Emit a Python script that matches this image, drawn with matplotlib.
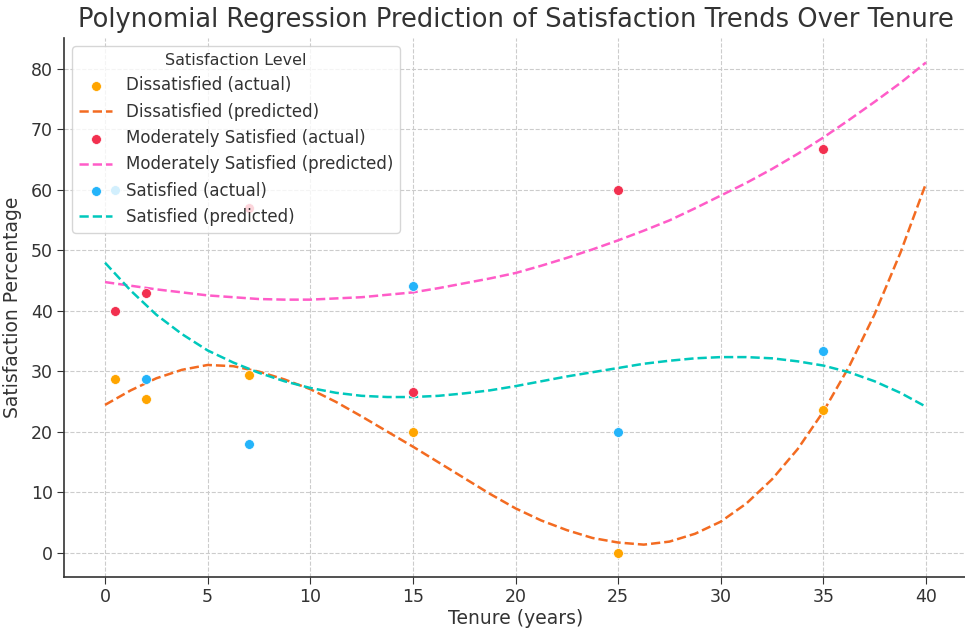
import matplotlib
matplotlib.use("Agg")
from matplotlib import pyplot as plt

# observed points
tenure = [0.5, 2, 7, 15, 25, 35]
dissatisfied = [28.6, 25.4, 29.4, 20.0, 0.0, 23.5]
moderately = [40.0, 42.9, 56.9, 26.5, 60.0, 66.7]
satisfied = [60.0, 28.6, 18.0, 44.1, 20.0, 33.3]

# predicted curves
tenure_pred = [0, 1.25, 2.5, 3.75, 5, 6.25, 7.5, 8.75, 10, 11.25, 12.5, 13.75, 15, 16.25, 17.5,
               18.75, 20, 21.25, 22.5, 23.75, 25, 26.25, 27.5, 28.75, 30, 31.25, 32.5, 33.75,
               35, 36.25, 37.5, 38.75, 40]
dissatisfied_pred = [24.4, 26.8, 28.8, 30.2, 31.0, 30.8, 29.9, 28.6, 27.0, 24.9, 22.5, 20.0, 17.5,
                     14.9, 12.3, 9.7, 7.3, 5.3, 3.7, 2.4, 1.65, 1.3, 1.8, 3.1, 5.1, 8.1, 12.1,
                     17.1, 23.3, 30.7, 39.4, 49.5, 61.0]
moderately_pred = [44.7, 44.1, 43.5, 43.0, 42.5, 42.2, 41.9, 41.8, 41.8, 42.0, 42.2, 42.6, 43.0,
                   43.7, 44.5, 45.3, 46.2, 47.4, 48.7, 50.1, 51.6, 53.2, 54.9, 56.9, 59.0, 61.1,
                   63.4, 65.9, 68.6, 71.5, 74.5, 77.6, 81.0]
satisfied_pred = [47.9, 43.3, 39.3, 36.1, 33.4, 31.4, 29.7, 28.3, 27.2, 26.4, 25.9, 25.7, 25.7,
                  25.9, 26.3, 26.8, 27.5, 28.3, 29.1, 29.8, 30.5, 31.2, 31.7, 32.1, 32.3, 32.3,
                  32.1, 31.6, 30.9, 29.8, 28.3, 26.4, 24.1]

series = [
    ("Dissatisfied", dissatisfied, dissatisfied_pred, "#FFA500", "#F36B21"),
    ("Moderately Satisfied", moderately, moderately_pred, "#F2304F", "#FF5CC8"),
    ("Satisfied", satisfied, satisfied_pred, "#24B4FA", "#00C8BC"),
]

plt.rcParams["font.family"] = "DejaVu Sans"
text_col = "#333333"

fig = plt.figure(figsize=(9.65, 6.29), dpi=100)
ax = fig.add_axes([64 / 965, 52 / 629, 903 / 965, 539 / 629])

for name, actual, pred, c_pt, c_ln in series:
    ax.scatter(tenure, actual, color=c_pt, s=50, edgecolors="white", linewidths=0.5,
               label=f"{name} (actual)", zorder=3)
    ax.plot(tenure_pred, pred, color=c_ln, linestyle="--", linewidth=1.8,
            label=f"{name} (predicted)", zorder=2)

ax.set_title("Polynomial Regression Prediction of Satisfaction Trends Over Tenure",
             fontsize=18.5, color=text_col, pad=8)
ax.set_xlabel("Tenure (years)", fontsize=13.5, color=text_col, labelpad=2)
ax.set_ylabel("Satisfaction Percentage", fontsize=13.5, color=text_col, labelpad=6)
ax.tick_params(labelsize=12.5, colors=text_col, length=5, pad=3)
ax.set_xticks(range(0, 41, 5))
ax.grid(True, linestyle="--", color="#cccccc", linewidth=0.8)
ax.set_axisbelow(True)
for side in ["top", "right"]:
    ax.spines[side].set_visible(False)
for side in ["left", "bottom"]:
    ax.spines[side].set_color("#333333")
    ax.spines[side].set_linewidth(1.2)

leg = ax.legend(title="Satisfaction Level", loc="upper left", fontsize=12,
                title_fontsize=11.5, framealpha=0.8, borderaxespad=0.5)
for t in leg.get_texts():
    t.set_color(text_col)
leg.get_title().set_color(text_col)

fig.savefig("out.png", dpi=100)
